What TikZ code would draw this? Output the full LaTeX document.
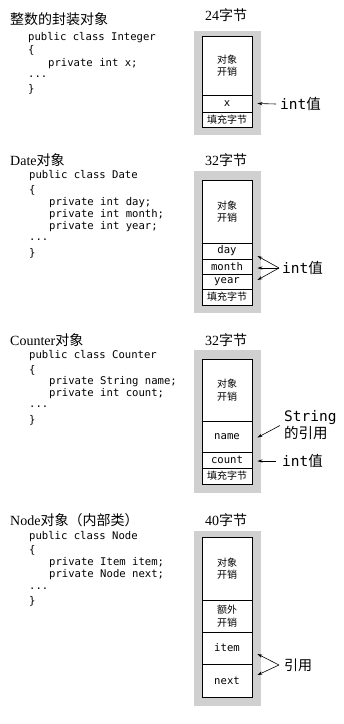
\documentclass[tikz,border=0pt]{standalone}
\usepackage{fontspec}
\setmainfont{Liberation Serif}
\setmonofont{DejaVu Sans Mono}
\newfontfamily\cjk{Noto Sans CJK SC}
\usetikzlibrary{arrows.meta}
\definecolor{boxgray}{RGB}{208,208,208}
\tikzset{
  ttl/.style={anchor=west, inner sep=0pt, font=\fontsize{14}{16}\selectfont},
  code/.style={anchor=west, inner sep=0pt, font=\ttfamily\fontsize{10.6}{12}\selectfont},
  bytes/.style={inner sep=0pt, font=\fontsize{14}{16}\selectfont},
  bg/.style={fill=boxgray, minimum width=67pt, inner sep=0pt},
  cell/.style={draw, fill=white, line width=0.9pt, minimum width=50pt, inner sep=0pt, align=center,
    font=\ttfamily\fontsize{10.6}{12}\selectfont},
  cjkcell/.style={cell, font=\cjk\fontsize{10}{12.5}\selectfont},
  lbl/.style={anchor=west, inner sep=0pt, align=left, font=\fontsize{14.5}{17}\selectfont},
  arr/.style={-{Stealth[length=5pt,width=3.2pt]}, line width=0.6pt},
}
\begin{document}
\begin{tikzpicture}[x=1pt, y=-1pt]
\useasboundingbox (0,0) rectangle (344,724);

% ---------- Panel 1 ----------
\node[ttl] (t1) at (10,19) {\cjk 整数的封装对象};
\node[code] (c11) at (28,38) {public class Integer};
\node[code] (c12) at (28,50) {\{};
\node[code] (c13) at (48,64) {private int x;};
\node[code] (c14) at (28,77) {...};
\node[code] (c15) at (28,89) {\}};
\node[bytes] (b1) at (226,15) {24{\cjk 字节}};
\node[bg, minimum height=104pt] (g1) at (227.5,83) {};
\node[cjkcell, minimum height=59pt] (ov1) at (227,65.5) {对象\\开销};
\node[cell, minimum height=17pt] (x1) at (227,103.5) {x};
\node[cjkcell, minimum height=15pt] (pad1) at (227,119.5) {填充字节};
\node[lbl] (l1) at (280,104) {{\ttfamily int}{\cjk 值}};
\draw[arr] ([xshift=-4pt]l1.west) -- ([xshift=5pt]x1.east);

% ---------- Panel 2 ----------
\node[ttl] (t2) at (10,160) {Date{\cjk 对象}};
\node[code] (c21) at (29,176) {public class Date};
\node[code] (c22) at (29,190) {\{};
\node[code] (c23) at (49,203) {private int day;};
\node[code] (c24) at (49,215) {private int month;};
\node[code] (c25) at (49,227) {private int year;};
\node[code] (c26) at (29,240) {...};
\node[code] (c27) at (29,253) {\}};
\node[bytes] (b2) at (226,160) {32{\cjk 字节}};
\node[bg, minimum height=142pt] (g2) at (227.5,242) {};
\node[cjkcell, minimum height=63pt] (ov2) at (227,211.5) {对象\\开销};
\node[cell, minimum height=16pt] (day) at (227,251) {day};
\node[cell, minimum height=15pt] (month) at (227,266.5) {month};
\node[cell, minimum height=15pt] (year) at (227,281.5) {year};
\node[cjkcell, minimum height=16pt] (pad2) at (227,297) {填充字节};
\draw[line width=1.6pt] (ov2.south west) -- (ov2.south east);
\node[lbl] (l2) at (282,268) {{\ttfamily int}{\cjk 值}};
\coordinate (s2) at ([xshift=-3pt]l2.west);
\draw[arr] (s2) -- ([xshift=5pt,yshift=-5pt]day.east);
\draw[arr] (s2) -- ([xshift=5pt,yshift=-1.5pt]month.east);
\draw[arr] (s2) -- ([xshift=5pt,yshift=1.5pt]year.east);

% ---------- Panel 3 ----------
\node[ttl] (t3) at (10,340) {Counter{\cjk 对象}};
\node[code] (c31) at (29,356) {public class Counter};
\node[code] (c32) at (29,370) {\{};
\node[code] (c33) at (49,382) {private String name;};
\node[code] (c34) at (49,394) {private int count;};
\node[code] (c35) at (29,407) {...};
\node[code] (c36) at (29,420) {\}};
\node[bytes] (b3) at (226,340) {32{\cjk 字节}};
\node[bg, minimum height=143pt] (g3) at (227.5,421.5) {};
\node[cjkcell, minimum height=62pt] (ov3) at (227,390) {对象\\开销};
\node[cell, minimum height=31pt] (name) at (227,436.5) {name};
\node[cell, minimum height=16pt] (count) at (227,460) {count};
\node[cjkcell, minimum height=16pt] (pad3) at (227,476) {填充字节};
\node[lbl] (l3) at (284,425.5) {{\ttfamily String}\\{\cjk 的引用}};
\draw[arr] ([xshift=-4pt]l3.west) -- ([xshift=5pt,yshift=-1pt]name.east);
\node[lbl] (l4) at (282,461) {{\ttfamily int}{\cjk 值}};
\draw[arr] ([xshift=-6pt]l4.west) -- ([xshift=5pt,yshift=-1pt]count.east);

% ---------- Panel 4 ----------
\node[ttl] (t4) at (10,520) {Node{\cjk 对象（内部类）}};
\node[code] (c41) at (29,537) {public class Node};
\node[code] (c42) at (29,550) {\{};
\node[code] (c43) at (49,563) {private Item item;};
\node[code] (c44) at (49,575) {private Node next;};
\node[code] (c45) at (29,589) {...};
\node[code] (c46) at (29,601) {\}};
\node[bytes] (b4) at (226,520) {40{\cjk 字节}};
\node[bg, minimum height=175pt] (g4) at (227.5,618.5) {};
\node[cjkcell, minimum height=63pt] (ov4) at (227,568.5) {对象\\开销};
\node[cjkcell, minimum height=32pt] (ex4) at (227,616) {额外\\开销};
\node[cell, minimum height=32pt] (item) at (227,648) {item};
\node[cell, minimum height=33pt] (next) at (227,680.5) {next};
\node[lbl, font=\cjk\fontsize{14}{16}\selectfont] (l5) at (284,665) {引用};
\coordinate (s5) at ([xshift=-5pt]l5.west);
\draw[arr] (s5) -- ([xshift=5pt,yshift=-6pt]item.east);
\draw[arr] (s5) -- ([xshift=5pt,yshift=5.5pt]next.east);
\end{tikzpicture}
\end{document}
